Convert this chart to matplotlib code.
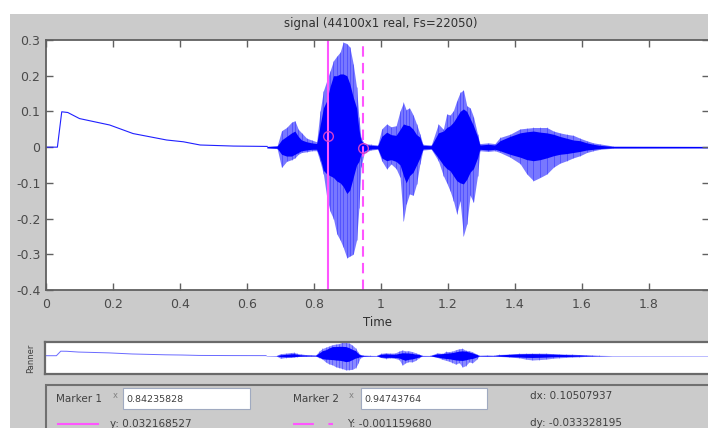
import numpy as np
import matplotlib.pyplot as plt
from matplotlib.patches import Rectangle
from matplotlib.lines import Line2D

plt.rcParams['font.family'] = ['DejaVu Sans']

W, H = 708, 428

# slow drift at the start of the recording (line)
t_lead = [0, 0.034, 0.047, 0.065, 0.10, 0.16, 0.19, 0.26, 0.31, 0.36, 0.41, 0.46, 0.56, 0.66]
v_lead = [0, 0.0, 0.099, 0.097, 0.080, 0.068, 0.062, 0.038, 0.029, 0.020, 0.015, 0.006, 0.003, 0.002]

# envelope of the speech part: time, peak top/bottom, dense core top/bottom
t_env = [0.66, 0.69, 0.703, 0.718, 0.733, 0.743, 0.753, 0.763, 0.778, 0.793, 0.808,
         0.818, 0.828, 0.838, 0.848, 0.858, 0.868, 0.878, 0.887, 0.898, 0.907, 0.917,
         0.927, 0.934, 0.940, 0.950, 0.97, 0.99,
         1.002, 1.017, 1.030, 1.045, 1.057, 1.067, 1.075, 1.085, 1.096, 1.106, 1.116,
         1.125, 1.15,
         1.171, 1.186, 1.196, 1.206, 1.216, 1.226, 1.236, 1.246, 1.256, 1.266, 1.276,
         1.288, 1.295, 1.32, 1.34,
         1.355, 1.385, 1.415, 1.435, 1.455, 1.475, 1.495, 1.515, 1.534, 1.554, 1.574,
         1.594, 1.614, 1.634, 1.654, 1.693, 1.98]
peak_hi = [0.002, 0.004, 0.046, 0.055, 0.070, 0.074, 0.050, 0.040, 0.025, 0.020, 0.015,
           0.100, 0.158, 0.186, 0.214, 0.242, 0.255, 0.266, 0.294, 0.290, 0.280, 0.233,
           0.167, 0.083, 0.027, 0.010, 0.008, 0.006,
           0.051, 0.065, 0.057, 0.060, 0.102, 0.125, 0.105, 0.110, 0.090, 0.065, 0.037,
           0.008, 0.006,
           0.065, 0.050, 0.093, 0.090, 0.102, 0.130, 0.153, 0.160, 0.116, 0.110, 0.085,
           0.037, 0.010, 0.012, 0.010,
           0.027, 0.036, 0.051, 0.053, 0.055, 0.055, 0.055, 0.045, 0.040, 0.036, 0.033,
           0.025, 0.018, 0.012, 0.009, 0.003, 0.002]
peak_lo = [-0.002, -0.004, -0.057, -0.040, -0.035, -0.030, -0.020, -0.015, -0.013, -0.010, -0.010,
           -0.040, -0.075, -0.140, -0.180, -0.200, -0.243, -0.260, -0.280, -0.310, -0.305, -0.300,
           -0.260, -0.170, -0.057, -0.015, -0.008, -0.006,
           -0.038, -0.061, -0.047, -0.060, -0.085, -0.206, -0.160, -0.131, -0.135, -0.103, -0.047,
           -0.008, -0.006,
           -0.038, -0.080, -0.100, -0.122, -0.150, -0.187, -0.150, -0.248, -0.215, -0.135, -0.155,
           -0.080, -0.010, -0.012, -0.010,
           -0.015, -0.028, -0.046, -0.075, -0.094, -0.085, -0.075, -0.056, -0.045, -0.038, -0.030,
           -0.024, -0.015, -0.010, -0.006, -0.003, -0.002]
core_hi = [0.002, 0.003, 0.020, 0.030, 0.040, 0.045, 0.030, 0.020, 0.015, 0.012, 0.010,
           0.060, 0.110, 0.130, 0.170, 0.200, 0.200, 0.205, 0.205, 0.200, 0.177, 0.140,
           0.110, 0.050, 0.020, 0.008, 0.005, 0.004,
           0.030, 0.042, 0.035, 0.033, 0.050, 0.065, 0.062, 0.060, 0.050, 0.035, 0.028,
           0.005, 0.004,
           0.040, 0.045, 0.055, 0.060, 0.070, 0.085, 0.100, 0.107, 0.100, 0.080, 0.060,
           0.030, 0.006, 0.008, 0.006,
           0.018, 0.030, 0.040, 0.043, 0.045, 0.042, 0.040, 0.036, 0.030, 0.025, 0.020,
           0.018, 0.012, 0.008, 0.005, 0.002, 0.002]
core_lo = [-0.002, -0.003, -0.020, -0.025, -0.025, -0.020, -0.015, -0.010, -0.008, -0.006, -0.006,
           -0.030, -0.065, -0.075, -0.080, -0.085, -0.095, -0.100, -0.110, -0.130, -0.120, -0.085,
           -0.050, -0.040, -0.020, -0.010, -0.005, -0.004,
           -0.030, -0.038, -0.035, -0.040, -0.050, -0.080, -0.100, -0.080, -0.070, -0.050, -0.030,
           -0.005, -0.004,
           -0.030, -0.050, -0.060, -0.066, -0.080, -0.094, -0.100, -0.103, -0.090, -0.070, -0.060,
           -0.030, -0.006, -0.008, -0.006,
           -0.010, -0.020, -0.028, -0.035, -0.038, -0.035, -0.030, -0.024, -0.020, -0.018, -0.015,
           -0.012, -0.008, -0.006, -0.004, -0.002, -0.002]

x_ticks = [0, 0.2, 0.4, 0.6, 0.8, 1, 1.2, 1.4, 1.6, 1.8]
y_ticks = [-0.4, -0.3, -0.2, -0.1, 0, 0.1, 0.2, 0.3]
x_ticklabels = ['0', '0.2', '0.4', '0.6', '0.8', '1', '1.2', '1.4', '1.6', '1.8']
y_ticklabels = ['-0.4', '-0.3', '-0.2', '-0.1', '0', '0.1', '0.2', '0.3']

marker1 = (0.84235828, 0.032168527)
marker2 = (0.94743764, -0.001159680)
dx, dy = 0.10507937, -0.033328195

gray = '#cbcbcb'
mag = '#ff55ff'


def fx(x):
    return x / W


def fy(y):
    return 1 - y / H


def draw_signal(ax, lw=0.9, line_col='blue', light='#7878ff'):
    ax.plot(t_lead, v_lead, color=line_col, lw=lw)
    ax.fill_between(t_env, peak_lo, peak_hi, color=light, lw=0)
    ax.vlines(t_env, peak_lo, peak_hi, color='blue', lw=0.6, alpha=0.35)
    ax.fill_between(t_env, core_lo, core_hi, color='blue', lw=0)


fig = plt.figure(figsize=(W / 100, H / 100), dpi=100, facecolor='white')
fig.patches.append(Rectangle((fx(10), 0), 1, fy(14), transform=fig.transFigure,
                             facecolor=gray, edgecolor='none', zorder=-10))

# main axes
ax = fig.add_axes([fx(46), fy(290), fx(709 - 46), (290 - 40) / H])
draw_signal(ax, lw=0.8, line_col='#2020ff')
ax.axvline(marker1[0], color=mag, lw=1.5)
ax.axvline(marker2[0], color=mag, lw=1.5, ls=(0, (5, 3)))
ax.plot([marker1[0]], [marker1[1]], 'o', mfc='none', mec='#d040d0', ms=7, mew=1)
ax.plot([marker2[0]], [marker2[1]], 'o', mfc='none', mec='#d040d0', ms=7, mew=1)
ax.set_xlim(0, 1.979)
ax.set_ylim(-0.4, 0.3)
ax.set_xticks(x_ticks)
ax.set_xticklabels(x_ticklabels)
ax.set_yticks(y_ticks)
ax.set_yticklabels(y_ticklabels)
ax.tick_params(direction='in', length=5, width=1, colors='#606060', labelcolor='#4a4a4a',
               labelsize=9, top=True, right=True, pad=4)
ax.tick_params(axis='x', pad=6)
for s in ax.spines.values():
    s.set_color('#606060')
    s.set_linewidth(1.3)
ax.set_xlabel('Time', fontsize=8.5, color='#303030', labelpad=3)
fig.text(fx(381), fy(24), 'signal (44100x1 real, Fs=22050)', fontsize=8.5, color='#303030',
         ha='center', va='center')

# panner
pan = fig.add_axes([fx(45), fy(374), fx(712 - 45), 32 / H])
draw_signal(pan, lw=0.7, line_col='#6a6aff', light='#8a8aff')
pan.set_xlim(0, 1.979 * (712 - 45) / (709 - 46))
pan.set_ylim(-0.4, 0.3)
pan.set_xticks([])
pan.set_yticks([])
for s in pan.spines.values():
    s.set_color('#6a6a6a')
    s.set_linewidth(1.6)
fig.text(fx(31), fy(358), 'Panner', rotation=90, fontsize=6, color='#404040',
         ha='center', va='center')

# marker readout panel
fig.patches.append(Rectangle((fx(46), fy(440)), fx(700), fy(385) - fy(440),
                             transform=fig.transFigure, facecolor='none',
                             edgecolor='#707070', lw=1.5))
for x0, x1 in [(123, 250), (361, 487)]:
    fig.patches.append(Rectangle((fx(x0), fy(409)), fx(x1 - x0), fy(388) - fy(409),
                                 transform=fig.transFigure, facecolor='white',
                                 edgecolor='#a0aac0', lw=0.8))

txt = dict(fontsize=7.5, color='#404040', va='center')
fig.text(fx(56), fy(399), 'Marker 1', **txt)
fig.text(fx(293), fy(399), 'Marker 2', **txt)
fig.text(fx(113), fy(395), 'x', fontsize=6, color='#808080', va='center')
fig.text(fx(349), fy(395), 'x', fontsize=6, color='#808080', va='center')
fig.text(fx(126), fy(399), f'{marker1[0]:.8f}', fontsize=6.8, color='#404040', va='center')
fig.text(fx(364), fy(399), f'{marker2[0]:.8f}', fontsize=6.8, color='#404040', va='center')
fig.text(fx(110), fy(424), f'y: {marker1[1]:.9f}', **txt)
fig.text(fx(347), fy(424), f'Y: {marker2[1]:.9f}', **txt)
fig.text(fx(530), fy(396), f'dx: {dx:.8f}', **txt)
fig.text(fx(530), fy(423), f'dy: {dy:.9f}', **txt)
fig.lines.append(Line2D([fx(58), fx(98)], [fy(424), fy(424)], transform=fig.transFigure,
                        color=mag, lw=1.5))
fig.lines.append(Line2D([fx(293), fx(333)], [fy(424), fy(424)], transform=fig.transFigure,
                        color=mag, lw=1.5, ls=(0, (10, 7))))

fig.savefig('out.png', dpi=100, facecolor=fig.get_facecolor())
